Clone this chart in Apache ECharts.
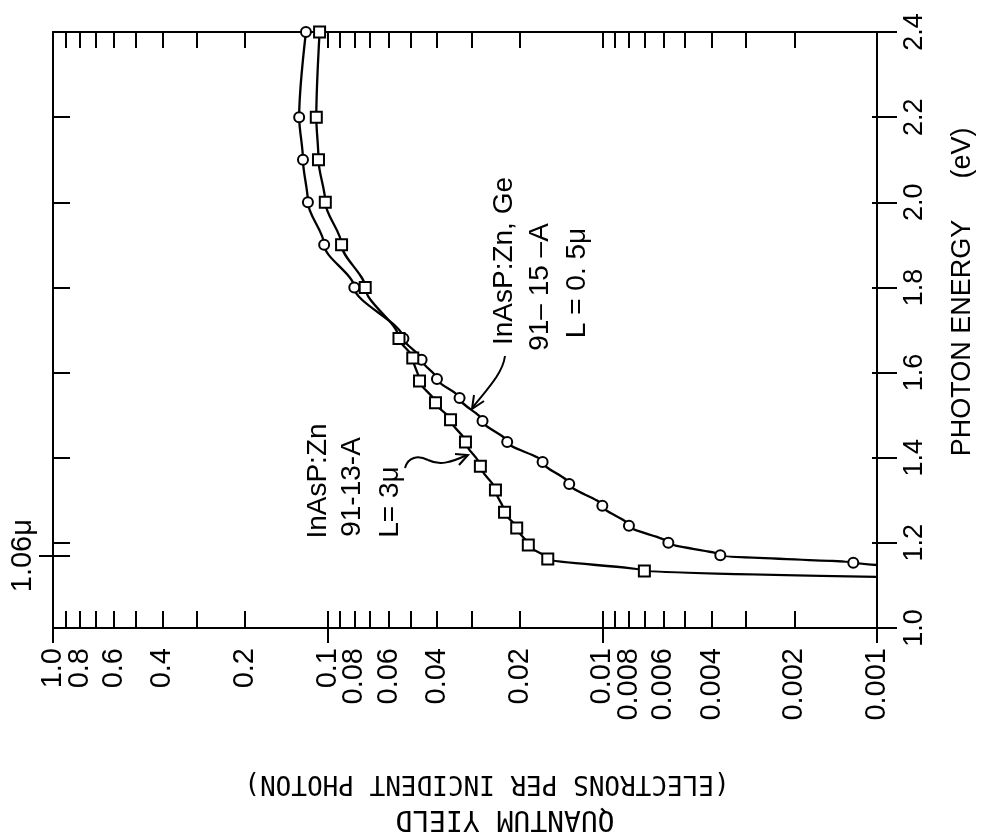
<!DOCTYPE html>
<html>
<head>
<meta charset="utf-8">
<title>Quantum yield vs photon energy</title>
<script src="https://cdn.jsdelivr.net/npm/echarts@6/dist/echarts.min.js"></script>
<style>
  html, body { margin: 0; padding: 0; background: #fff; }
  #chart { width: 981px; height: 835px; }
</style>
</head>
<body>
<div id="chart"></div>
<script>
// InAsP:Zn, Ge  91-15-A  L = 0.5u  (circles)
const circleEnergy = [1.148, 1.153, 1.171, 1.20, 1.24, 1.287, 1.338, 1.39, 1.437, 1.486, 1.54, 1.585, 1.63, 1.68, 1.80, 1.90, 2.0, 2.1, 2.2, 2.4];
const circleYield = [0.001, 0.00122, 0.00372, 0.00575, 0.0080, 0.0100, 0.0132, 0.0165, 0.0222, 0.0273, 0.0331, 0.040, 0.0455, 0.053, 0.080, 0.103, 0.118, 0.123, 0.127, 0.120];

// InAsP:Zn  91-13-A  L = 3u  (squares)
const squareEnergy = [1.12, 1.134, 1.162, 1.195, 1.235, 1.272, 1.324, 1.38, 1.437, 1.489, 1.529, 1.58, 1.634, 1.68, 1.80, 1.90, 2.0, 2.1, 2.2, 2.4];
const squareYield = [0.001, 0.00703, 0.0158, 0.0186, 0.0205, 0.0227, 0.0245, 0.0278, 0.0315, 0.0357, 0.0405, 0.0463, 0.049, 0.055, 0.073, 0.089, 0.102, 0.108, 0.110, 0.107];

// axis ticks
const yieldLabels = ['1.0', '0.8', '0.6', '0.4', '0.2', '0.1', '0.08', '0.06', '0.04', '0.02',
  '0.01', '0.008', '0.006', '0.004', '0.002', '0.001'];
const yieldMinorTicks = [1, 0.9, 0.8, 0.7, 0.6, 0.5, 0.4, 0.3, 0.2,
  0.1, 0.09, 0.08, 0.07, 0.06, 0.05, 0.04, 0.03, 0.02,
  0.01, 0.009, 0.008, 0.007, 0.006, 0.005, 0.004, 0.003, 0.002, 0.001];
const yieldDecades = [1, 0.1, 0.01, 0.001];
const energyTicks = [1.0, 1.2, 1.4, 1.6, 1.8, 2.0, 2.2, 2.4];
const laserLine = 1.17; // 1.06 micron

const FONT = '"Liberation Sans", Arial, sans-serif';
const MONO = '"DejaVu Sans Mono", monospace';

function yieldLabel(v) {
  const hit = yieldLabels.find(l => Math.abs(Math.log10(Number(l)) - Math.log10(v)) < 1e-6);
  return hit || '';
}

const logAxisBase = {
  type: 'log',
  logBase: 10,
  min: 0.001,
  max: 1,
  inverse: true,
  gridIndex: 0,
  splitLine: { show: false },
  axisLine: { show: true, lineStyle: { color: '#000', width: 2 } },
};

const energyAxisBase = {
  type: 'value',
  min: 1.0,
  max: 2.4,
  interval: 0.2,
  gridIndex: 0,
  splitLine: { show: false },
  axisLine: { show: true, lineStyle: { color: '#000', width: 2 } },
};

const yieldLabelStyle = {
  show: true, rotate: 90, margin: 20, fontSize: 29, color: '#000', fontFamily: FONT,
  interval: 0, formatter: yieldLabel, hideOverlap: false,
};

function rotText(x, y, text, font, rotation) {
  return {
    type: 'text', x: x, y: y, rotation: rotation,
    style: { text: text, font: font, fill: '#000', align: 'center', verticalAlign: 'middle' },
  };
}

const chart = echarts.init(document.getElementById('chart'), null, { renderer: 'canvas' });

chart.setOption({
  backgroundColor: '#fff',
  animation: false,
  textStyle: { fontFamily: FONT, color: '#000' },
  grid: { left: 53, right: 104, top: 32, bottom: 207, outerBoundsMode: 'none' },
  xAxis: [
    {
      ...logAxisBase,
      position: 'bottom',
      axisTick: { show: true, inside: true, length: 17, customValues: yieldMinorTicks, lineStyle: { color: '#000', width: 2 } },
      axisLabel: { ...yieldLabelStyle, customValues: yieldLabels.slice(1).map(Number) },
    },
    {
      ...logAxisBase,
      position: 'top',
      axisTick: { show: true, inside: true, length: 16, customValues: yieldMinorTicks, lineStyle: { color: '#000', width: 2 } },
      axisLabel: { show: false },
    },
    {
      ...logAxisBase,
      position: 'bottom',
      axisLine: { show: false },
      axisTick: { show: true, inside: false, length: 15, customValues: yieldDecades, lineStyle: { color: '#000', width: 2 } },
      // the "1.0" label sits too close to "0.8" for one axis to keep both
      axisLabel: { ...yieldLabelStyle, customValues: [Number(yieldLabels[0])], showMaxLabel: true, showMinLabel: true },
    },
  ],
  yAxis: [
    {
      ...energyAxisBase,
      position: 'right',
      axisTick: { show: true, inside: false, length: 20, lineStyle: { color: '#000', width: 2 } },
      axisLabel: {
        show: true, rotate: 90, margin: 24, fontSize: 27, color: '#000', fontFamily: FONT,
        formatter: v => v.toFixed(1), showMinLabel: true, showMaxLabel: true,
      },
    },
    {
      ...energyAxisBase,
      position: 'right',
      axisLine: { show: false },
      axisTick: { show: true, inside: true, length: 5, customValues: energyTicks, lineStyle: { color: '#000', width: 2 } },
      axisLabel: { show: false },
    },
    {
      ...energyAxisBase,
      position: 'left',
      axisTick: { show: true, inside: true, length: 17, customValues: energyTicks.concat([laserLine]), lineStyle: { color: '#000', width: 2 } },
      axisLabel: { show: false },
    },
    {
      ...energyAxisBase,
      position: 'left',
      axisLine: { show: false },
      axisTick: { show: true, inside: false, length: 14, customValues: [laserLine], lineStyle: { color: '#000', width: 2 } },
      axisLabel: {
        show: true, rotate: 90, margin: 16, fontSize: 29, color: '#000', fontFamily: FONT,
        customValues: [laserLine], formatter: () => '1.06\u03bc',
      },
    },
  ],
  series: [
    {
      name: 'InAsP:Zn, Ge 91-15-A',
      type: 'line',
      xAxisIndex: 0,
      yAxisIndex: 0,
      data: circleEnergy.map((e, i) => [circleYield[i], e]),
      smooth: 0.3,
      smoothMonotone: 'y',
      clip: false,
      symbol: v => (v[0] <= 0.001 ? 'none' : 'circle'),
      symbolSize: 10,
      itemStyle: { color: '#fff', borderColor: '#000', borderWidth: 2 },
      lineStyle: { color: '#000', width: 2.3 },
    },
    {
      name: 'InAsP:Zn 91-13-A',
      type: 'line',
      xAxisIndex: 0,
      yAxisIndex: 0,
      data: squareEnergy.map((e, i) => [squareYield[i], e]),
      smooth: 0.3,
      smoothMonotone: 'y',
      clip: false,
      symbol: v => (v[0] <= 0.001 ? 'none' : 'rect'),
      symbolSize: 11,
      itemStyle: { color: '#fff', borderColor: '#000', borderWidth: 2 },
      lineStyle: { color: '#000', width: 2.3 },
    },
  ],
  graphic: [
    // axis titles
    rotText(963, 338, 'PHOTON ENERGY', '27px ' + FONT, Math.PI / 2),
    rotText(963, 153, '(eV)', '27px ' + FONT, Math.PI / 2),
    rotText(487, 783, '(ELECTRONS PER INCIDENT PHOTON)', '26px ' + MONO, Math.PI),
    rotText(505, 818, 'QUANTUM YIELD', '28px ' + MONO, Math.PI),

    // sample labels
    rotText(504, 261, 'InAsP:Zn, Ge', '28px ' + FONT, Math.PI / 2),
    rotText(540, 287, '91\u2013 15 \u2013A', '28px ' + FONT, Math.PI / 2),
    rotText(577, 283, 'L = 0. 5\u03bc', '28px ' + FONT, Math.PI / 2),
    rotText(318, 481, 'InAsP:Zn', '28px ' + FONT, Math.PI / 2),
    rotText(352, 487, '91-13-A', '28px ' + FONT, Math.PI / 2),
    rotText(390, 502, 'L= 3\u03bc', '28px ' + FONT, Math.PI / 2),

    // arrows
    { type: 'bezierCurve',
      shape: { x1: 505, y1: 356, cpx1: 503, cpy1: 372, cpx2: 490, cpy2: 386, x2: 473, y2: 407 },
      style: { stroke: '#000', lineWidth: 2, fill: null } },
    { type: 'polyline', shape: { points: [[474, 395], [472, 409], [484, 401]] },
      style: { stroke: '#000', lineWidth: 2, fill: null } },
    { type: 'bezierCurve',
      shape: { x1: 405, y1: 468, cpx1: 408, cpy1: 457, cpx2: 418, cpy2: 455, x2: 428, y2: 460 },
      style: { stroke: '#000', lineWidth: 2, fill: null } },
    { type: 'bezierCurve',
      shape: { x1: 428, y1: 460, cpx1: 440, cpy1: 466, cpx2: 452, cpy2: 462, x2: 467, y2: 455 },
      style: { stroke: '#000', lineWidth: 2, fill: null } },
    { type: 'polyline', shape: { points: [[455, 454], [468, 455], [459, 465]] },
      style: { stroke: '#000', lineWidth: 2, fill: null } },
  ],
});

window.addEventListener('resize', () => chart.resize());
</script>
</body>
</html>
